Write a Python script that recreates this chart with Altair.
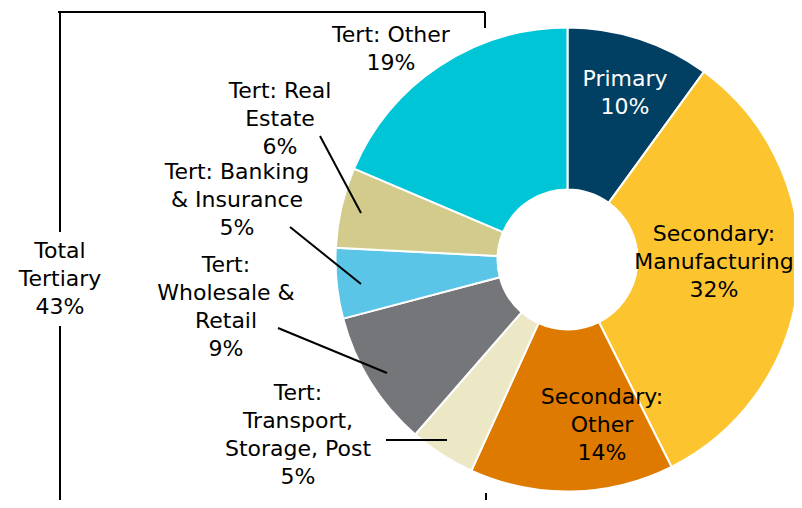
import altair as alt
import pandas as pd

# ---- data ----
sectors = ["Primary", "Secondary: Manufacturing", "Secondary: Other",
           "Tert: Transport, Storage, Post", "Tert: Wholesale & Retail",
           "Tert: Banking & Insurance", "Tert: Real Estate", "Tert: Other"]
# slice sizes (%)
shares = [10.0, 32.6, 14.2, 4.6, 9.5, 4.9, 5.6, 18.6]
# percentages as printed on the labels
label_pct = [10, 32, 14, 5, 9, 5, 6, 19]
colors = ["#013f63", "#fcc530", "#df7a00", "#ece7c4", "#757679",
          "#5bc5e7", "#d3cb8c", "#00c5d7"]

# label texts (with the line breaks used in the picture)
label_names = ["Primary", "Secondary:\nManufacturing", "Secondary:\nOther",
               "Tert:\nTransport,\nStorage, Post", "Tert:\nWholesale &\nRetail",
               "Tert: Banking\n& Insurance", "Tert: Real\nEstate", "Tert: Other"]
total_name = "Total\nTertiary"
total_pct = 43

# ---- layout (chart pixel coordinates) ----
label_x = [617, 706, 594, 290, 218, 229, 272, 383]
label_y = [78, 233, 396, 392, 264, 171, 90, 34]
label_col = ["white", "black", "black", "black", "black", "black", "black", "black"]
total_x, total_y = 52, 250

seg_x1 = [50, 52, 52, 477, 478, 312, 282, 270, 378]
seg_y1 = [4, 4, 318, 4, 485, 128, 219, 320, 432]
seg_x2 = [477, 52, 52, 477, 478, 353, 353, 379, 439]
seg_y2 = [4, 224, 500, 20, 500, 205, 276, 365, 432]

cx, cy, r_out, r_in = 559.5, 251.5, 232, 70

pie_df = pd.DataFrame({"sector": sectors, "share": shares,
                       "idx": list(range(len(sectors)))})
lab_df = pd.DataFrame({
    "text": [f"{n}\n{p}%" for n, p in zip(label_names, label_pct)] + [f"{total_name}\n{total_pct}%"],
    "x": label_x + [total_x], "y": label_y + [total_y],
    "col": label_col + ["black"]})
seg_df = pd.DataFrame({"x": seg_x1, "y": seg_y1, "x2": seg_x2, "y2": seg_y2})

pie = alt.Chart(pie_df).mark_arc(
    outerRadius=r_out, innerRadius=r_in, stroke="white", strokeWidth=2
).encode(
    theta=alt.Theta("share:Q", stack=True),
    order=alt.Order("idx:Q"),
    color=alt.Color("sector:N", scale=alt.Scale(domain=sectors, range=colors), legend=None),
    x=alt.value(cx), y=alt.value(cy),
)

labels = alt.Chart(lab_df).mark_text(
    font="DejaVu Sans", fontSize=22, lineBreak="\n", lineHeight=28,
    align="center", baseline="alphabetic"
).encode(
    x=alt.X("x:Q", scale=None), y=alt.Y("y:Q", scale=None),
    text="text:N",
    color=alt.Color("col:N", scale=None),
)

segs = alt.Chart(seg_df).mark_rule(color="black", strokeWidth=2).encode(
    x=alt.X("x:Q", scale=None), y=alt.Y("y:Q", scale=None),
    x2="x2:Q", y2="y2:Q",
)

chart = alt.layer(pie, segs, labels).properties(
    width=786, height=492, padding=0, autosize="none"
).configure_view(stroke=None)

chart.save("out.html", embed_options={"renderer": "svg", "actions": False})
